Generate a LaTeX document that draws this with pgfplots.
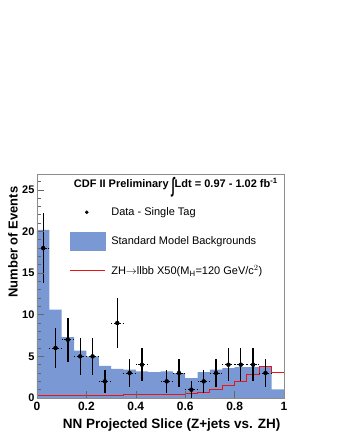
\documentclass[border=0pt]{standalone}
\usepackage{fontspec}
\setmainfont{Liberation Sans}
\usepackage{pgfplots}
\pgfplotsset{compat=1.18}
\definecolor{bgblue}{RGB}{122,153,212}
\definecolor{sigred}{RGB}{235,20,20}
\begin{document}
\begin{tikzpicture}
\path[use as bounding box] (0,0) rectangle (341pt,441pt);
\begin{axis}[
  at={(37pt,43pt)}, anchor=south west,
  scale only axis, width=247pt, height=224pt,
  xmin=0, xmax=1, ymin=0, ymax=26.9,
  axis on top,
  axis line style={draw=black!45, line width=0.6pt},
  xtick={0,0.2,0.4,0.6,0.8,1},
  ytick={0,5,10,15,20,25},
  minor ytick={1,2,3,4,6,7,8,9,11,12,13,14,16,17,18,19,21,22,23,24,26},
  tick align=inside,
  xtick pos=bottom, ytick pos=left,
  major tick length=7pt, minor tick length=4pt,
  every tick/.style={black!60, line width=0.6pt},
  /pgf/number format/assume math mode=true,
  xticklabel style={font=\bfseries\fontsize{12}{12}\selectfont, yshift=-1pt},
  yticklabel style={font=\bfseries\fontsize{11}{11}\selectfont, xshift=1pt},
  xlabel={NN Projected Slice (Z+jets vs. ZH)},
  ylabel={Number of Events},
  xlabel style={font=\bfseries\fontsize{13.5}{13.5}\selectfont, at={(axis description cs:1,-0.12)}, anchor=east},
  ylabel style={font=\bfseries\fontsize{13}{13}\selectfont, at={(axis description cs:-0.097,0.96)}, anchor=east, rotate=0},
  legend style={draw=none, fill=none, font=\fontsize{11}{11}\selectfont,
    at={(axis description cs:0.13,0.86)}, anchor=north west,
    row sep=13pt, column sep=4pt, inner sep=0pt},
  legend cell align=left,
]
% legend images
\addlegendimage{legend image code/.code={\fill[black] (17pt,0) circle (1.6pt); \path (0,-2pt) (35pt,2pt);}}
\addlegendentry{Data - Single Tag}
\addlegendimage{legend image code/.code={\fill[bgblue] (0,-9pt) rectangle (35pt,9pt);}}
\addlegendentry{Standard Model Backgrounds}
\addlegendimage{legend image code/.code={\draw[sigred, line width=1pt] (0,0) -- (35pt,0);}}
\addlegendentry{ZH$\rightarrow$llbb X50(M$_{\mathrm{H}}$=120 GeV/c$^{2}$)}
% SM background
\addplot[forget plot, const plot, fill=bgblue, draw=none] coordinates {
  (0,20.2) (0.05,10.6) (0.1,7.3) (0.15,5.7) (0.2,5.0) (0.25,3.85) (0.3,3.5)
  (0.35,3.4) (0.4,3.2) (0.45,3.1) (0.5,3.2) (0.55,3.0) (0.6,2.4) (0.65,3.1)
  (0.7,3.4) (0.75,3.6) (0.8,3.7) (0.85,3.7) (0.9,3.7) (0.95,1.05) (1,1.05)
} \closedcycle;
% signal
\addplot[forget plot, const plot, sigred, line width=1pt] coordinates {
  (0,0.3) (0.05,0.3) (0.1,0.3) (0.15,0.3) (0.2,0.3) (0.25,0.3) (0.3,0.3)
  (0.35,0.4) (0.4,0.4) (0.45,0.4) (0.5,0.45) (0.55,0.45) (0.6,0.55) (0.65,0.7)
  (0.7,1.05) (0.75,1.45) (0.8,2.0) (0.85,2.85) (0.9,3.8) (0.95,3.05) (1,3.05)
};
% data, x errors (dashed)
\addplot[forget plot, only marks, mark=none, black,
  error bars/.cd, x dir=both, x explicit,
  error bar style={line width=1pt, dash pattern=on 3.5pt off 1.8pt},
  error mark=none] coordinates {
  (0.025,18) +- (0.025,0) (0.075,6) +- (0.025,0) (0.125,7) +- (0.025,0)
  (0.175,5) +- (0.025,0) (0.225,5) +- (0.025,0) (0.275,2) +- (0.025,0)
  (0.325,9) +- (0.025,0) (0.375,3) +- (0.025,0) (0.425,4) +- (0.025,0)
  (0.525,2) +- (0.025,0) (0.575,3) +- (0.025,0) (0.625,1) +- (0.025,0)
  (0.675,2) +- (0.025,0) (0.725,3) +- (0.025,0) (0.775,4) +- (0.025,0)
  (0.825,4) +- (0.025,0) (0.875,4) +- (0.025,0) (0.925,3) +- (0.025,0)
};
% data, y errors
\addplot[forget plot, only marks, black, mark=*, mark size=1.7pt,
  error bars/.cd, y dir=both, y explicit,
  error bar style={line width=1.3pt}, error mark=none] coordinates {
  (0.025,18) +- (0,4.24) (0.075,6) +- (0,2.45) (0.125,7) +- (0,2.65)
  (0.175,5) +- (0,2.24) (0.225,5) +- (0,2.24) (0.275,2) +- (0,1.41)
  (0.325,9) +- (0,3) (0.375,3) +- (0,1.73) (0.425,4) +- (0,2)
  (0.525,2) +- (0,1.41) (0.575,3) +- (0,1.73) (0.625,1) +- (0,1)
  (0.675,2) +- (0,1.41) (0.725,3) +- (0,1.73) (0.775,4) +- (0,2)
  (0.825,4) +- (0,2) (0.875,4) +- (0,2) (0.925,3) +- (0,1.73)
};
\node[font=\bfseries\fontsize{11}{11}\selectfont, anchor=center]
  at (axis description cs:0.562,0.942)
  {CDF II Preliminary \raisebox{-0.75ex}{\scalebox{1}[1.9]{∫}}Ldt = 0.97 - 1.02 fb\textsuperscript{-1}};
\end{axis}
\end{tikzpicture}
\end{document}
